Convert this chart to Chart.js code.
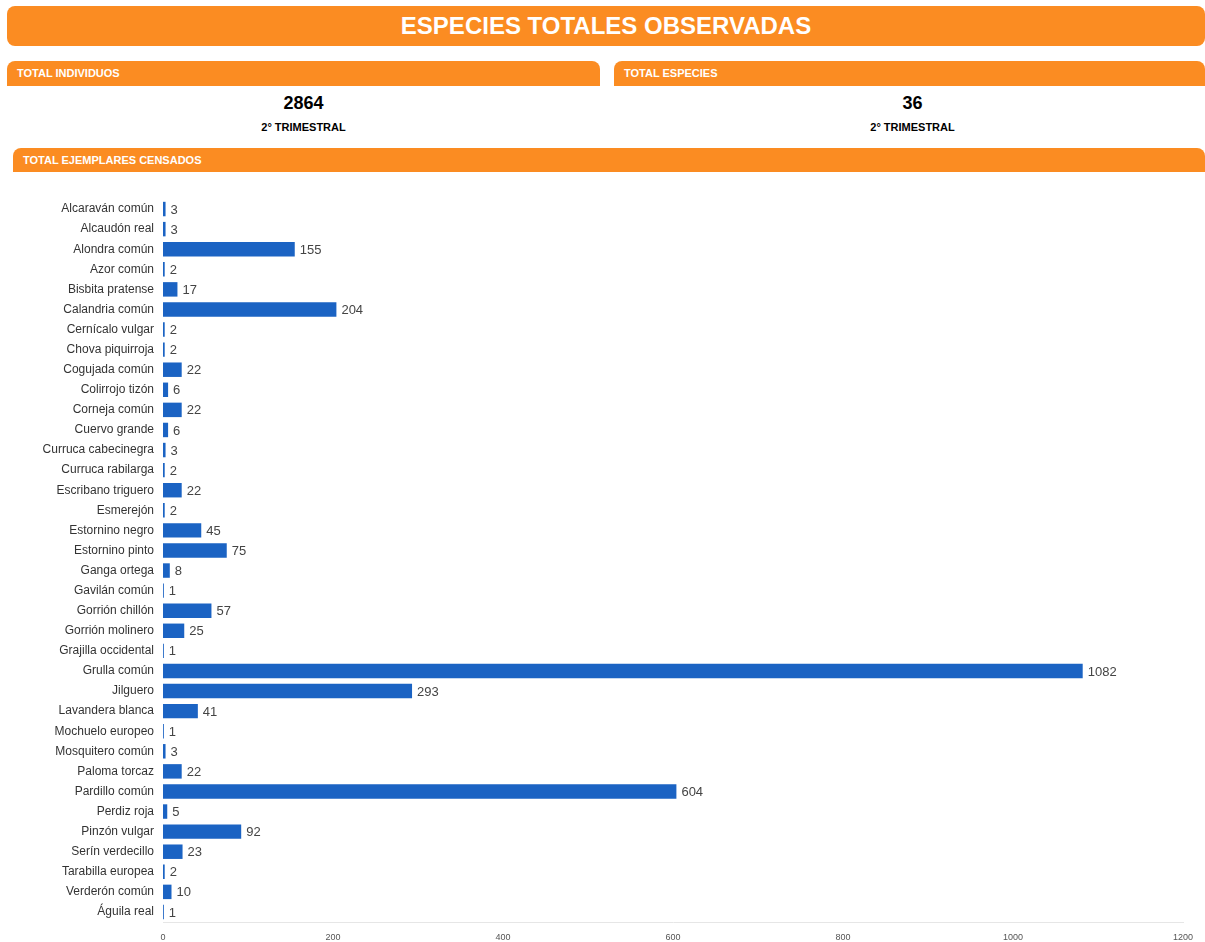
<!DOCTYPE html>
<html lang="es">
<head>
<meta charset="utf-8">
<title>Especies totales observadas</title>
<script src="https://cdn.jsdelivr.net/npm/chart.js@4"></script>
<style>
  body { margin: 0; background: #fff; font-family: "Liberation Sans", Arial, sans-serif; }
  .wrap { position: relative; width: 1205px; height: 942px; overflow: hidden; }
  .titulo {
    position: absolute; left: 7px; top: 6px; width: 1198px; height: 40px;
    background: #fb8c22; border-radius: 8px; color: #fff; font-weight: bold;
    font-size: 24px; line-height: 40px; text-align: center;
  }
  .cab {
    position: absolute; height: 25px; background: #fb8c22; border-radius: 8px 8px 0 0;
    color: #fff; font-weight: bold; font-size: 11px; line-height: 25px; padding-left: 10px;
    box-sizing: border-box;
  }
  .valor { position: absolute; text-align: center; color: #000; font-weight: bold; }
  .num { font-size: 18px; }
  .sub { font-size: 11px; margin-top: 7px; }
  #grafico-box { position: absolute; left: 0; top: 180px; width: 1205px; height: 762px; }
</style>
</head>
<body>
<div class="wrap">
  <div class="titulo">ESPECIES TOTALES OBSERVADAS</div>

  <div class="cab" style="left:7px; top:61px; width:593px;">TOTAL INDIVIDUOS</div>
  <div class="valor" style="left:7px; top:93px; width:593px;">
    <div class="num" id="totalIndividuos"></div>
    <div class="sub">2° TRIMESTRAL</div>
  </div>

  <div class="cab" style="left:614px; top:61px; width:591px;">TOTAL ESPECIES</div>
  <div class="valor" style="left:614px; top:93px; width:597px;">
    <div class="num" id="totalEspecies"></div>
    <div class="sub">2° TRIMESTRAL</div>
  </div>

  <div class="cab" style="left:13px; top:148px; width:1192px; height:24px; line-height:24px;">TOTAL EJEMPLARES CENSADOS</div>

  <div id="grafico-box"><canvas id="grafico"></canvas></div>
</div>

<script>
// Datos
const especies = [
  'Alcaraván común', 'Alcaudón real', 'Alondra común', 'Azor común', 'Bisbita pratense',
  'Calandria común', 'Cernícalo vulgar', 'Chova piquirroja', 'Cogujada común', 'Colirrojo tizón',
  'Corneja común', 'Cuervo grande', 'Curruca cabecinegra', 'Curruca rabilarga', 'Escribano triguero',
  'Esmerejón', 'Estornino negro', 'Estornino pinto', 'Ganga ortega', 'Gavilán común',
  'Gorrión chillón', 'Gorrión molinero', 'Grajilla occidental', 'Grulla común', 'Jilguero',
  'Lavandera blanca', 'Mochuelo europeo', 'Mosquitero común', 'Paloma torcaz', 'Pardillo común',
  'Perdiz roja', 'Pinzón vulgar', 'Serín verdecillo', 'Tarabilla europea', 'Verderón común',
  'Águila real'
];
const ejemplares = [
  3, 3, 155, 2, 17,
  204, 2, 2, 22, 6,
  22, 6, 3, 2, 22,
  2, 45, 75, 8, 1,
  57, 25, 1, 1082, 293,
  41, 1, 3, 22, 604,
  5, 92, 23, 2, 10,
  1
];
const ticksX = [0, 200, 400, 600, 800, 1000, 1200];

document.getElementById('totalIndividuos').textContent = ejemplares.reduce((a, b) => a + b, 0);
document.getElementById('totalEspecies').textContent = especies.length;

// Etiquetas de valor al final de cada barra
const etiquetasValor = {
  id: 'etiquetasValor',
  afterDatasetsDraw(chart) {
    const ctx = chart.ctx;
    const meta = chart.getDatasetMeta(0);
    ctx.save();
    ctx.font = '13px "Liberation Sans", Arial, sans-serif';
    ctx.fillStyle = '#444';
    ctx.textAlign = 'left';
    ctx.textBaseline = 'middle';
    meta.data.forEach((bar, i) => {
      ctx.fillText(chart.data.datasets[0].data[i], bar.x + 5, bar.y + 1);
    });
    ctx.restore();
  }
};

new Chart(document.getElementById('grafico'), {
  type: 'bar',
  data: {
    labels: especies,
    datasets: [{
      data: ejemplares,
      backgroundColor: '#1b63c3',
      barPercentage: 0.72,
      categoryPercentage: 1
    }]
  },
  options: {
    indexAxis: 'y',
    responsive: true,
    maintainAspectRatio: false,
    animation: false,
    layout: { padding: { top: 19, right: 22, left: 0, bottom: 0 } },
    plugins: { legend: { display: false }, tooltip: { enabled: false } },
    scales: {
      x: {
        min: 0,
        max: 1200,
        afterBuildTicks: (axis) => { axis.ticks = ticksX.map(v => ({ value: v })); },
        afterFit: (axis) => { axis.height = 20; },
        grid: { display: false, drawTicks: false },
        border: { display: true, color: '#e6e6e6' },
        ticks: {
          padding: 10, color: '#555',
          font: { size: 9, family: '"Liberation Sans", Arial' },
          callback: (v) => String(v)
        }
      },
      y: {
        afterFit: (axis) => { axis.width = 163; },
        grid: { display: false, drawTicks: false },
        border: { display: false },
        ticks: { padding: 9, color: '#333', autoSkip: false, font: { size: 12, family: '"Liberation Sans", Arial' } }
      }
    }
  },
  plugins: [etiquetasValor]
});
</script>
</body>
</html>
